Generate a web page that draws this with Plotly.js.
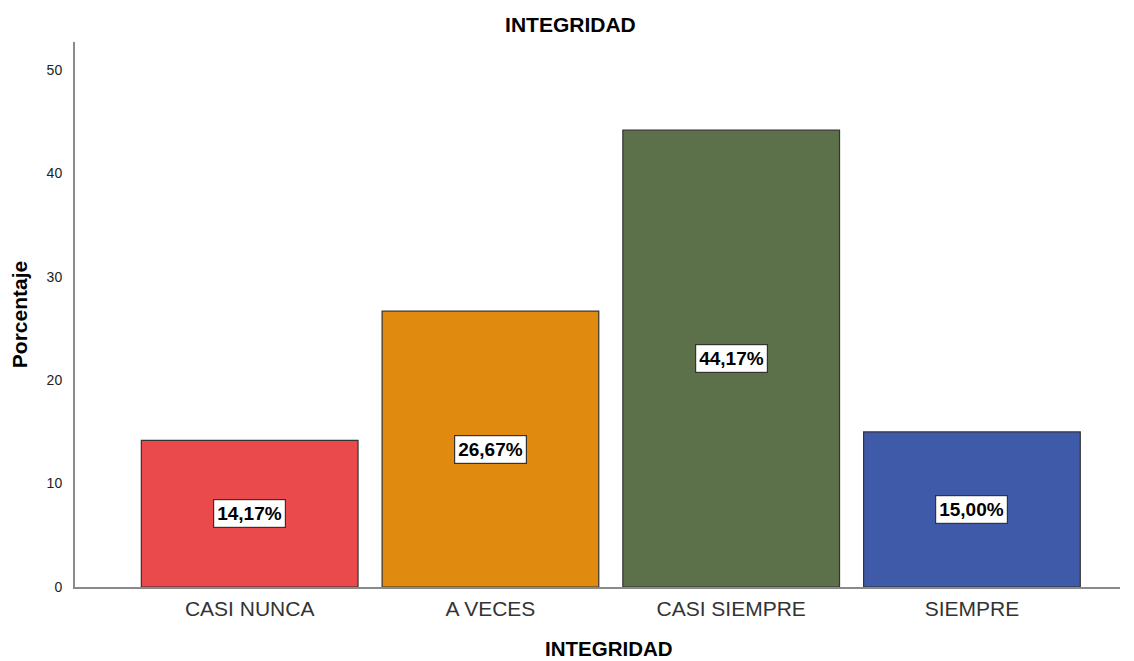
<!DOCTYPE html>
<html>
<head>
<meta charset="utf-8">
<script src="https://cdn.plot.ly/plotly-3.0.1.min.js"></script>
<style>html,body{margin:0;padding:0;background:#fff;}#chart{width:1134px;height:661px;}</style>
</head>
<body>
<div id="chart"></div>
<script>
const categories = ["CASI NUNCA", "A VECES", "CASI SIEMPRE", "SIEMPRE"];
const percentages = [14.17, 26.67, 44.17, 15.00];
const barLabels = ["14,17%", "26,67%", "44,17%", "15,00%"];
const barColors = ["#EB4A4C", "#E08A10", "#5C7049", "#3F5AA8"];
const yTicks = [0, 10, 20, 30, 40, 50];

const trace = {
  type: "bar",
  x: categories,
  y: percentages,
  width: 0.9,
  marker: { color: barColors, line: { color: "#333333", width: 1.2 } },
  hoverinfo: "none"
};

const FONT = "Arial, Liberation Sans, sans-serif";

const annotations = categories.map((c, i) => ({
  x: c,
  y: percentages[i] / 2,
  xref: "x",
  yref: "y",
  text: "<b>" + barLabels[i] + "</b>",
  showarrow: false,
  font: { family: FONT, size: 19, color: "#000" },
  bgcolor: "#ffffff",
  bordercolor: "#333333",
  borderwidth: 1.2,
  borderpad: 3
}));

annotations.push({
  xref: "paper", yref: "paper",
  x: 0.511, y: -0.113,
  xanchor: "center", yanchor: "middle",
  text: "<b>INTEGRIDAD</b>",
  showarrow: false,
  font: { family: FONT, size: 20.5, color: "#000" }
});

const layout = {
  width: 1134,
  height: 661,
  margin: { l: 75, r: 14, t: 42, b: 74 },
  paper_bgcolor: "#ffffff",
  plot_bgcolor: "#ffffff",
  showlegend: false,
  title: {
    text: "<b>INTEGRIDAD</b>",
    font: { family: FONT, size: 21, color: "#000" },
    xref: "container",
    x: 0.503, xanchor: "center", y: 0.962, yanchor: "middle"
  },
  xaxis: {
    type: "category",
    range: [-0.7256, 3.615],
    showline: true,
    linecolor: "#8a8a8a",
    linewidth: 2,
    showgrid: false,
    zeroline: false,
    ticks: "",
    ticklabelstandoff: 2,
    tickfont: { family: FONT, size: 21, color: "#333" }
  },
  yaxis: {
    range: [0, 52.7],
    tickvals: yTicks,
    ticktext: yTicks.map(String),
    showline: true,
    linecolor: "#8a8a8a",
    linewidth: 2,
    showgrid: false,
    zeroline: false,
    ticks: "",
    ticklabelstandoff: 8,
    tickfont: { family: FONT, size: 14, color: "#222" },
    title: {
      text: "<b>Porcentaje</b>",
      font: { family: FONT, size: 21, color: "#000" },
      standoff: 13
    }
  },
  annotations: annotations
};

Plotly.newPlot("chart", [trace], layout, { displayModeBar: false, staticPlot: true });
</script>
</body>
</html>
